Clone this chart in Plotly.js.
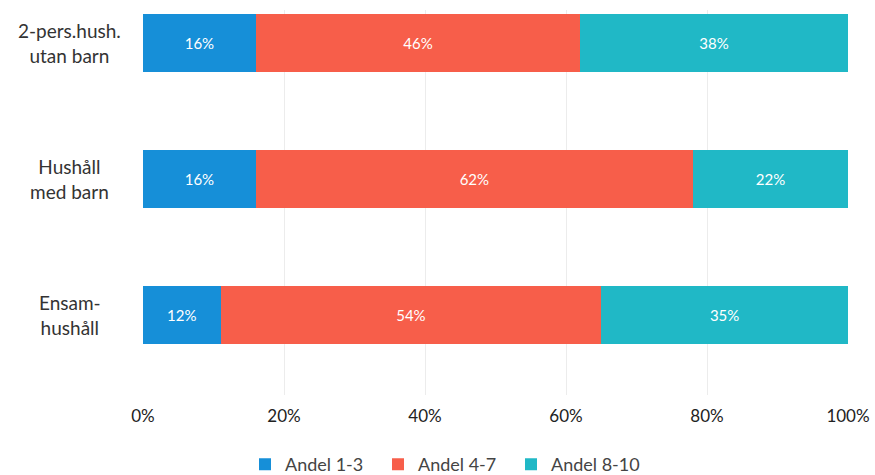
<!DOCTYPE html>
<html>
<head>
<meta charset="utf-8">
<script src="https://cdn.plot.ly/plotly-3.0.1.min.js"></script>
<style>html,body{margin:0;padding:0;background:#fff;}#chart{width:875px;height:475px;}</style>
</head>
<body>
<div id="chart"></div>
<script>
// Categories (bottom to top)
const categories = ["Ensam-<br>hushåll", "Hushåll<br>med barn", "2-pers.hush.<br>utan barn"];
const seriesNames = ["Andel 1-3", "Andel 4-7", "Andel 8-10"];
const andel13 = [11, 16, 16];
const andel47 = [54, 62, 46];
const andel810 = [35, 22, 38];
const labels13 = ["12%", "16%", "16%"];
const labels47 = ["54%", "62%", "46%"];
const labels810 = ["35%", "22%", "38%"];
const tickVals = [0, 20, 40, 60, 80, 100];
const tickText = ["0%", "20%", "40%", "60%", "80%", "100%"];
const colors = ["#168fd8", "#f75e4a", "#20b8c6"];

const seriesValues = [andel13, andel47, andel810];
const seriesLabels = [labels13, labels47, labels810];
const yIdx = categories.map((c, i) => i);

const traces = seriesValues.map((vals, k) => ({
  type: "bar",
  orientation: "h",
  name: seriesNames[k],
  x: vals,
  y: yIdx,
  text: seriesLabels[k],
  textposition: "inside",
  insidetextanchor: "middle",
  textfont: {color: "#ffffff", size: 15, family: "Lato, 'Open Sans', sans-serif"},
  marker: {color: colors[k]},
  hoverinfo: "none"
}));

const annotations = categories.map((c, i) => ({
  xref: "paper", yref: "y",
  x: -0.104, y: i,
  text: c,
  showarrow: false,
  xanchor: "center", yanchor: "middle",
  align: "center",
  font: {size: 19, color: "#333333", family: "Lato, 'Open Sans', sans-serif"}
}));

const layout = {
  width: 875, height: 475,
  margin: {l: 143, r: 27, t: 10, b: 80, autoexpand: false},
  paper_bgcolor: "#ffffff",
  plot_bgcolor: "#ffffff",
  barmode: "stack",
  bargap: 0.58,
  showlegend: true,
  legend: {
    orientation: "h", x: 0.280, xref: "container", xanchor: "left",
    y: 0.022, yref: "container", yanchor: "middle",
    font: {size: 18, color: "#444444", family: "Lato, 'Open Sans', sans-serif"},
    itemwidth: 30,
    entrywidth: 88,
    traceorder: "normal"
  },
  xaxis: {
    range: [0, 100],
    tickvals: tickVals, ticktext: tickText,
    showgrid: true, gridcolor: "#ececec", gridwidth: 1,
    zeroline: false, showline: false, ticks: "",
    ticklabelstandoff: 9,
    automargin: false,
    tickfont: {size: 17, color: "#222222", family: "Lato, 'Open Sans', sans-serif"},
    fixedrange: true
  },
  yaxis: {
    range: [-0.588, 2.243],
    automargin: false,
    showticklabels: false, showgrid: false, zeroline: false, ticks: "",
    fixedrange: true
  },
  annotations: annotations
};

Plotly.newPlot("chart", traces, layout, {displayModeBar: false, staticPlot: true});
</script>
</body>
</html>
